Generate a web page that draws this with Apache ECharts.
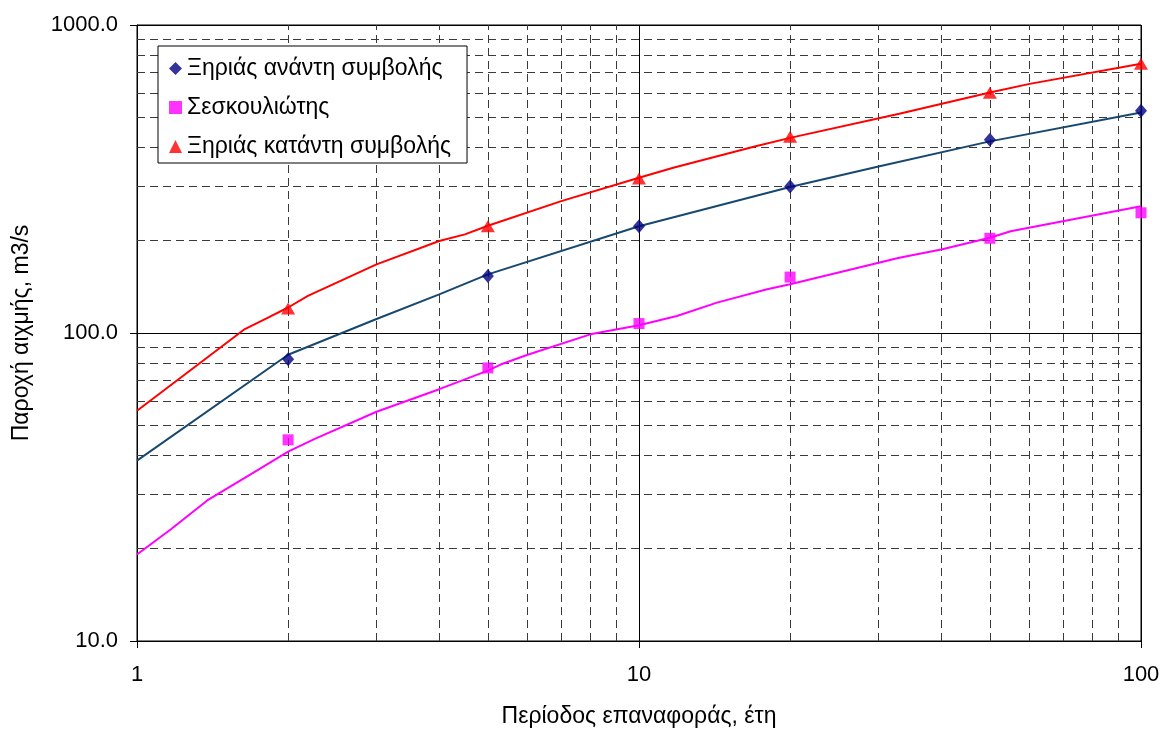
<!DOCTYPE html>
<html>
<head>
<meta charset="utf-8">
<script src="https://cdn.jsdelivr.net/npm/echarts@6/dist/echarts.min.js"></script>
<style>
  html, body { margin: 0; padding: 0; background: #fff; }
  #chart { width: 1170px; height: 733px; }
</style>
</head>
<body>
<div id="chart"></div>
<script>
// Return periods (years) of the estimated peak discharges
const returnPeriods = [2, 5, 10, 20, 50, 100];

// Estimated peak discharges, m3/s
const xiriasUpstream   = [82.2, 153, 222, 299, 424, 527];
const seskouliotis     = [45.0, 77.0, 107.3, 151.9, 203, 245.6];
const xiriasDownstream = [120.1, 222, 317.7, 434, 603, 748.6];

// Fitted curves: [return period, discharge]
const xiriasUpstreamCurve = [
  [1, 38.5], [2, 85], [3, 111], [4, 133.5], [5, 155], [10, 222],
  [20, 298], [30, 347], [50, 419], [100, 520]
];
const seskouliotisCurve = [
  [1, 19.1], [1.17, 23.1], [1.38, 28.6], [1.69, 34.9], [2, 41.2], [2.26, 45.3],
  [3, 55.5], [4, 65.7], [5, 75.5], [5.3, 79], [6, 85], [8, 99], [10, 106],
  [11.9, 113.6], [14.3, 125.5], [18, 138.6], [20, 143.9], [33, 175.5],
  [40, 186.7], [50, 203.8], [55, 214], [100, 258]
];
const xiriasDownstreamCurve = [
  [1, 55.9], [1.64, 103], [1.82, 112], [2, 121], [2.19, 132], [3, 167],
  [4, 199], [4.5, 209], [5, 223], [7, 268], [10, 319], [11.7, 344],
  [17, 403], [20, 430], [33, 515], [50, 604], [60, 644], [100, 748]
];

// Series names and axis captions
const seriesNames = ['Ξηριάς ανάντη συμβολής', 'Σεσκουλιώτης', 'Ξηριάς κατάντη συμβολής'];
const xAxisTitle = 'Περίοδος επαναφοράς, έτη';
const yAxisTitle = 'Παροχή αιχμής, m3/s';

// Minor (dashed) grid positions inside each decade
const xMinorGrid = [2, 3, 4, 5, 6, 7, 8, 9, 20, 30, 40, 50, 60, 70, 80, 90];
const yMinorGrid = [20, 30, 40, 50, 60, 70, 80, 90, 200, 300, 400, 500, 600, 700, 800, 900];

const FONT = '"Liberation Sans", Arial, sans-serif';

const pairs = (xs, ys) => xs.map((x, i) => [x, ys[i]]);

const chart = echarts.init(document.getElementById('chart'), null, { renderer: 'canvas' });

const axisCommon = {
  type: 'log',
  logBase: 10,
  axisLine: { show: true, lineStyle: { color: '#000', width: 1 } },
  axisTick: { show: true, inside: false, length: 7, lineStyle: { color: '#000' } },
  splitLine: { show: true, lineStyle: { color: '#000', width: 1, type: 'solid' } },
  minorTick: { show: false },
  minorSplitLine: { show: false },
  nameLocation: 'middle',
  nameTextStyle: { fontFamily: FONT, fontSize: 23, color: '#000' }
};

chart.setOption({
  animation: false,
  backgroundColor: '#fff',
  grid: {
    left: 137, top: 25, width: 1004, height: 617,
    show: true, borderColor: '#000', borderWidth: 1, backgroundColor: 'transparent',
    containLabel: false
  },
  legend: {
    z: 20,
    orient: 'vertical',
    left: 158, top: 46,
    backgroundColor: '#fff',
    borderColor: '#000', borderWidth: 1, borderRadius: 0,
    padding: [11, 16, 5, 11],
    itemGap: 16,
    itemWidth: 13, itemHeight: 13,
    textStyle: { fontFamily: FONT, fontSize: 23, color: '#000' },
    data: [
      { name: seriesNames[0], icon: 'diamond' },
      { name: seriesNames[1], icon: 'rect' },
      { name: seriesNames[2], icon: 'triangle' }
    ]
  },
  xAxis: Object.assign({}, axisCommon, {
    min: 1, max: 100,
    name: xAxisTitle, nameGap: 64,
    axisLabel: { fontFamily: FONT, fontSize: 22, color: '#000', margin: 23,
                 formatter: v => String(Math.round(v)) }
  }),
  yAxis: Object.assign({}, axisCommon, {
    min: 10, max: 1000,
    name: yAxisTitle, nameGap: 104, nameRotate: 90,
    axisLabel: { fontFamily: FONT, fontSize: 22, color: '#000', margin: 19,
                 formatter: v => Number(v).toFixed(1) }
  }),
  series: [
    {
      name: seriesNames[0], type: 'scatter', z: 5,
      symbol: 'diamond', symbolSize: [12, 14],
      itemStyle: { color: '#000080' },
      data: pairs(returnPeriods, xiriasUpstream)
    },
    {
      name: seriesNames[1], type: 'scatter', z: 5,
      symbol: 'rect', symbolSize: 11,
      itemStyle: { color: '#FF00FF' },
      data: pairs(returnPeriods, seskouliotis)
    },
    {
      name: seriesNames[2], type: 'scatter', z: 5,
      symbol: 'triangle', symbolSize: [14, 12],
      itemStyle: { color: '#FF0000' },
      data: pairs(returnPeriods, xiriasDownstream)
    },
    {
      name: seriesNames[0], type: 'line', z: 3, showSymbol: false, symbol: 'none',
      lineStyle: { color: '#17486F', width: 2 }, itemStyle: { color: '#000080' },
      data: xiriasUpstreamCurve
    },
    {
      name: seriesNames[1], type: 'line', z: 3, showSymbol: false, symbol: 'none',
      lineStyle: { color: '#FF00FF', width: 2 }, itemStyle: { color: '#FF00FF' },
      data: seskouliotisCurve
    },
    {
      name: seriesNames[2], type: 'line', z: 3, showSymbol: false, symbol: 'none',
      lineStyle: { color: '#FF0000', width: 2 }, itemStyle: { color: '#FF0000' },
      data: xiriasDownstreamCurve
    },
    {
      // dashed minor grid drawn through the axis scales
      name: 'grid-minor', type: 'line', z: 1, silent: true, data: [],
      markLine: {
        z: 1,
        silent: true, symbol: ['none', 'none'], animation: false,
        label: { show: false },
        lineStyle: { color: '#3a3a3a', width: 1, type: [8, 5] },
        emphasis: { disabled: true },
        data: xMinorGrid.map(v => ({ xAxis: v })).concat(yMinorGrid.map(v => ({ yAxis: v })))
      }
    }
  ]
});
</script>
</body>
</html>
